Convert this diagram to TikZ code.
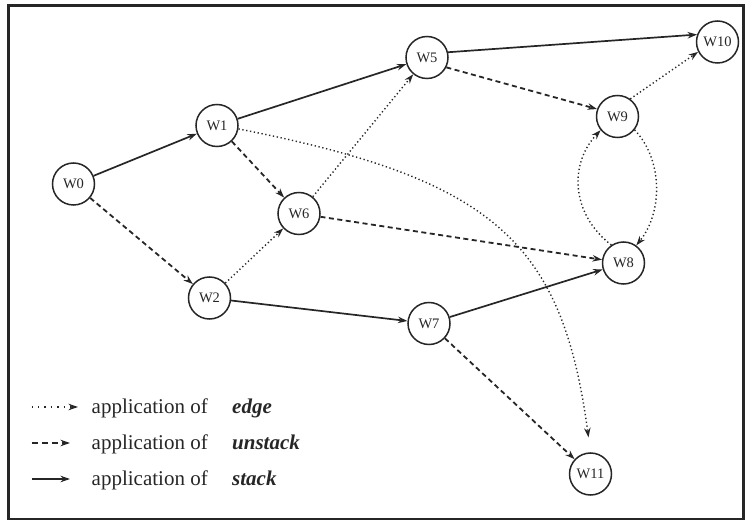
\documentclass[tikz,border=0pt]{standalone}
\usepackage{fontspec}
\setmainfont{Liberation Serif}
\usetikzlibrary{arrows.meta}
\definecolor{ink}{HTML}{262626}
\begin{document}
\begin{tikzpicture}[x=1pt,y=-1pt,
  wnode/.style={circle,draw=ink,line width=1.5pt,minimum size=42pt,inner sep=0pt,
    text=ink,font=\fontsize{14.5}{14.5}\selectfont},
  tipstyle/.style={-{Stealth[length=9.5pt,width=6.5pt]}},
  solidarr/.style={tipstyle,draw=ink,line width=1.7pt},
  dasharr/.style={tipstyle,draw=ink,line width=1.8pt,dash pattern=on 5pt off 3.5pt},
  dotarr/.style={tipstyle,draw=ink,line width=1.4pt,dash pattern=on 1.3pt off 2.6pt},
  legdot/.style={tipstyle,draw=ink,line width=1.5pt,dash pattern=on 1.4pt off 5pt},
  legtext/.style={anchor=base west,inner sep=0pt,text=ink,font=\fontsize{21}{21}\selectfont},
  legword/.style={anchor=base west,inner sep=0pt,text=ink,font=\fontsize{21}{21}\selectfont\bfseries\itshape},
]
\useasboundingbox (0,0) rectangle (745,521);
\draw[draw=ink,line width=2.4pt] (8.5,5.5) rectangle (743.5,519);

% nodes
\node[wnode] (W0) at (73.5,184) {W0};
\node[wnode] (W1) at (217,125.5) {W1};
\node[wnode] (W2) at (209.5,298) {W2};
\node[wnode] (W6) at (299,213.5) {W6};
\node[wnode] (W5) at (427,57.5) {W5};
\node[wnode] (W7) at (429,323.5) {W7};
\node[wnode] (W8) at (623.5,263) {W8};
\node[wnode] (W9) at (617.5,116.5) {W9};
\node[wnode] (W10) at (717.5,42) {W10};
\node[wnode] (W11) at (590.5,474) {W11};

% stack (solid)
\draw[solidarr] (W0) -- (W1);
\draw[solidarr] (W1) -- (W5);
\draw[solidarr] (W2) -- (W7);
\draw[solidarr] (W5.14) -- (W10.160);
\draw[solidarr] (W7) -- (W8);

% unstack (dashed)
\draw[dasharr] (W0) -- (W2);
\draw[dasharr] (W1) -- (W6);
\draw[dasharr] (W6) -- (W8);
\draw[dasharr] (W5.-27) -- (W9.160);
\draw[dasharr] (W7) -- (W11);

% edge (dotted)
\draw[dotarr] (W2) -- (W6);
\draw[dotarr] (W6) -- (W5);
\draw[dotarr] (W9.54) -- (W10.207);
\draw[dotarr,shorten >=15pt] (W1.-9) .. controls (492,179) and (562,240) .. (W11.north);
\draw[dotarr] (W9.-38) .. controls (663,160) and (663,212) .. (W8.54);
\draw[dotarr] (W8.124) .. controls (572,215) and (568,165) .. (W9.-141);

% legend
\coordinate (la1) at (31.5,407);
\coordinate (lb1) at (78,407);
\coordinate (la2) at (31.5,443);
\coordinate (lb2) at (70,443);
\coordinate (la3) at (31.5,479);
\coordinate (lb3) at (70,479);
\draw[legdot] (la1) -- (lb1);
\draw[dasharr,dash pattern=on 6pt off 4pt] (la2) -- (lb2);
\draw[solidarr] (la3) -- (lb3);
\node[legtext] (t1) at (91.5,413.5) {application of};
\node[legtext] (t2) at (91.5,449.5) {application of};
\node[legtext] (t3) at (91.5,485.5) {application of};
\node[legword] (w1) at (232,413.5) {edge};
\node[legword] (w2) at (232,449.5) {unstack};
\node[legword] (w3) at (232,485.5) {stack};
\end{tikzpicture}
\end{document}
